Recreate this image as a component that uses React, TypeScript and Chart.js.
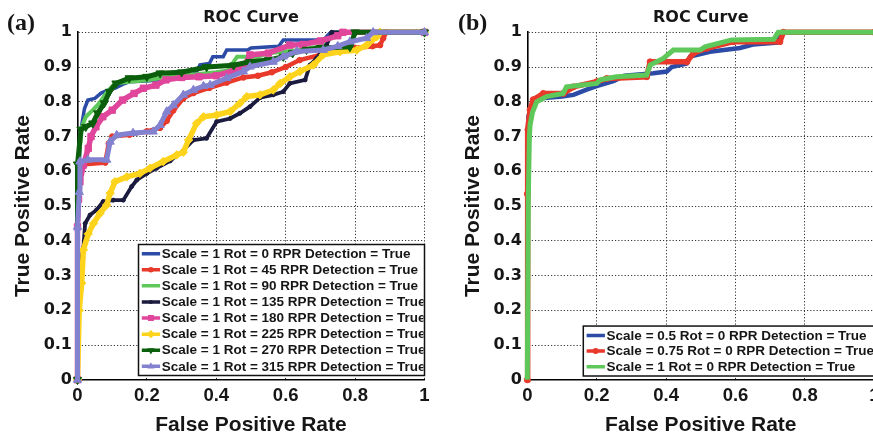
import React, { useEffect, useRef } from 'react';
import { Chart, registerables } from 'chart.js';

Chart.register(...registerables);

// ---------- text ----------
const TITLE = 'ROC Curve';
const X_TITLE = 'False Positive Rate';
const Y_TITLE = 'True Positive Rate';
const PANEL_LABELS = ['(a)', '(b)'];

// ---------- ticks ----------
const X_TICKS = [0, 0.2, 0.4, 0.6, 0.8, 1];
const X_TICK_LABELS = ['0', '0.2', '0.4', '0.6', '0.8', '1'];
const Y_TICKS = [0, 0.1, 0.2, 0.3, 0.4, 0.5, 0.6, 0.7, 0.8, 0.9, 1];
const Y_TICK_LABELS = ['0', '0.1', '0.2', '0.3', '0.4', '0.5', '0.6', '0.7', '0.8', '0.9', '1'];

// ---------- legend labels ----------
const LABELS_A = [
  'Scale = 1 Rot = 0 RPR Detection = True',
  'Scale = 1 Rot = 45 RPR Detection = True',
  'Scale = 1 Rot = 90 RPR Detection = True',
  'Scale = 1 Rot = 135 RPR Detection = True',
  'Scale = 1 Rot = 180 RPR Detection = True',
  'Scale = 1 Rot = 225 RPR Detection = True',
  'Scale = 1 Rot = 270 RPR Detection = True',
  'Scale = 1 Rot = 315 RPR Detection = True',
];
const LABELS_B = [
  'Scale = 0.5 Rot = 0 RPR Detection = True',
  'Scale = 0.75 Rot = 0 RPR Detection = True',
  'Scale = 1 Rot = 0 RPR Detection = True',
];

// ---------- data: [FPR, TPR] ----------
const A_ROT0: [number, number][] = [
  [0, 0], [0, 0.5], [0.005, 0.62], [0.01, 0.72], [0.02, 0.78], [0.03, 0.805], [0.05, 0.81],
  [0.068, 0.825], [0.09, 0.834], [0.11, 0.84], [0.13, 0.85], [0.15, 0.858], [0.2, 0.86],
  [0.25, 0.865], [0.295, 0.872], [0.33, 0.875], [0.345, 0.89], [0.353, 0.906], [0.38, 0.91],
  [0.39, 0.93], [0.42, 0.93], [0.43, 0.949], [0.49, 0.949], [0.5, 0.955], [0.58, 0.96],
  [0.593, 0.978], [0.71, 0.978], [0.72, 0.99], [0.73, 1], [1, 1],
];
const A_ROT45: [number, number][] = [
  [0, 0], [0, 0.44], [0.005, 0.6], [0.02, 0.62], [0.08, 0.625], [0.09, 0.68], [0.1, 0.7],
  [0.15, 0.705], [0.2, 0.715], [0.238, 0.725], [0.257, 0.745], [0.276, 0.775], [0.305, 0.81],
  [0.334, 0.825], [0.38, 0.84], [0.43, 0.855], [0.478, 0.87], [0.52, 0.875], [0.56, 0.885],
  [0.6, 0.9], [0.64, 0.92], [0.7, 0.935], [0.75, 0.945], [0.8, 0.955], [0.85, 0.96],
  [0.872, 0.963], [0.881, 0.983], [0.89, 1], [1, 1],
];
const A_ROT90: [number, number][] = [
  [0, 0], [0, 0.55], [0.005, 0.65], [0.013, 0.728], [0.024, 0.757], [0.044, 0.776],
  [0.063, 0.796], [0.082, 0.824], [0.1, 0.845], [0.111, 0.853], [0.149, 0.858], [0.2, 0.862],
  [0.25, 0.87], [0.3, 0.875], [0.35, 0.88], [0.4, 0.885], [0.434, 0.89], [0.45, 0.915],
  [0.46, 0.93], [0.52, 0.93], [0.55, 0.94], [0.6, 0.945], [0.65, 0.95], [0.7, 0.96],
  [0.74, 0.99], [0.75, 1], [1, 1],
];
const A_ROT135: [number, number][] = [
  [0, 0], [0.003, 0.25], [0.008, 0.33], [0.017, 0.38], [0.022, 0.45], [0.036, 0.474],
  [0.055, 0.489], [0.074, 0.513], [0.103, 0.517], [0.132, 0.517], [0.156, 0.556], [0.171, 0.575],
  [0.2, 0.594], [0.228, 0.609], [0.267, 0.63], [0.305, 0.66], [0.334, 0.69], [0.372, 0.695],
  [0.401, 0.743], [0.44, 0.752], [0.468, 0.767], [0.497, 0.786], [0.526, 0.812], [0.564, 0.82],
  [0.593, 0.829], [0.612, 0.853], [0.656, 0.863], [0.67, 0.906], [0.689, 0.925], [0.718, 0.963],
  [0.733, 1], [1, 1],
];
const A_ROT180: [number, number][] = [
  [0, 0], [0, 0.44], [0.003, 0.52], [0.007, 0.57], [0.017, 0.618], [0.031, 0.666], [0.039, 0.7],
  [0.053, 0.728], [0.073, 0.757], [0.1, 0.776], [0.13, 0.805], [0.163, 0.824], [0.19, 0.839],
  [0.226, 0.848], [0.255, 0.863], [0.3, 0.87], [0.35, 0.872], [0.4, 0.875], [0.45, 0.89],
  [0.48, 0.9], [0.497, 0.935], [0.55, 0.94], [0.612, 0.963], [0.65, 0.965], [0.7, 0.975],
  [0.75, 0.99], [0.765, 1], [1, 1],
];
const A_ROT225: [number, number][] = [
  [0, 0], [0.005, 0.2], [0.012, 0.278], [0.017, 0.374], [0.031, 0.42], [0.046, 0.45],
  [0.065, 0.479], [0.084, 0.503], [0.094, 0.537], [0.108, 0.57], [0.142, 0.584], [0.18, 0.594],
  [0.209, 0.609], [0.247, 0.628], [0.286, 0.647], [0.305, 0.655], [0.32, 0.69], [0.343, 0.738],
  [0.363, 0.757], [0.401, 0.762], [0.44, 0.772], [0.468, 0.796], [0.488, 0.815], [0.526, 0.82],
  [0.564, 0.834], [0.584, 0.853], [0.612, 0.872], [0.641, 0.887], [0.68, 0.906], [0.708, 0.935],
  [0.756, 0.944], [0.805, 0.949], [0.833, 0.963], [0.862, 0.987], [0.872, 1], [1, 1],
];
const A_ROT270: [number, number][] = [
  [0, 0], [0, 0.62], [0.01, 0.72], [0.024, 0.728], [0.044, 0.738], [0.058, 0.767], [0.077, 0.796],
  [0.092, 0.829], [0.111, 0.853], [0.149, 0.868], [0.2, 0.872], [0.238, 0.882], [0.3, 0.885],
  [0.372, 0.9], [0.45, 0.905], [0.497, 0.915], [0.55, 0.92], [0.593, 0.93], [0.62, 0.94],
  [0.66, 0.95], [0.7, 0.955], [0.785, 0.958], [0.8, 1], [1, 1],
];
const A_ROT315: [number, number][] = [
  [0, 0], [0, 0.44], [0.005, 0.54], [0.007, 0.628], [0.03, 0.633], [0.084, 0.633], [0.094, 0.685],
  [0.113, 0.704], [0.16, 0.71], [0.218, 0.714], [0.238, 0.733], [0.257, 0.772], [0.276, 0.79],
  [0.305, 0.82], [0.334, 0.834], [0.363, 0.845], [0.382, 0.848], [0.43, 0.868], [0.478, 0.887],
  [0.497, 0.901], [0.564, 0.915], [0.593, 0.93], [0.632, 0.945], [0.708, 0.949], [0.75, 0.96],
  [0.785, 0.973], [0.833, 0.983], [0.852, 1], [1, 1],
];

const B_SCALE05: [number, number][] = [
  [0, 0], [0, 0.6], [0.003, 0.757], [0.01, 0.785], [0.02, 0.8], [0.04, 0.81], [0.1, 0.815],
  [0.133, 0.82], [0.171, 0.835], [0.2, 0.845], [0.25, 0.86], [0.28, 0.875], [0.363, 0.882],
  [0.402, 0.887], [0.416, 0.9], [0.459, 0.91], [0.469, 0.93], [0.526, 0.944], [0.613, 0.955],
  [0.65, 0.965], [0.72, 0.97], [0.733, 1], [1, 1],
];
const B_SCALE075: [number, number][] = [
  [0, 0], [0, 0.535], [0.002, 0.72], [0.008, 0.777], [0.017, 0.806], [0.046, 0.824],
  [0.104, 0.824], [0.133, 0.843], [0.2, 0.858], [0.229, 0.867], [0.344, 0.872], [0.354, 0.915],
  [0.46, 0.915], [0.479, 0.94], [0.517, 0.954], [0.594, 0.973], [0.728, 0.973], [0.738, 1], [1, 1],
];
const B_SCALE1: [number, number][] = [
  [0, 0], [0.003, 0.53], [0.006, 0.7], [0.008, 0.733], [0.015, 0.77], [0.027, 0.8], [0.055, 0.815],
  [0.103, 0.824], [0.113, 0.843], [0.2, 0.853], [0.21, 0.863], [0.257, 0.872], [0.344, 0.877],
  [0.354, 0.906], [0.392, 0.925], [0.421, 0.949], [0.498, 0.949], [0.512, 0.958], [0.589, 0.978],
  [0.71, 0.98], [0.723, 1], [1, 1],
];

const SERIES_A = [A_ROT0, A_ROT45, A_ROT90, A_ROT135, A_ROT180, A_ROT225, A_ROT270, A_ROT315];
const SERIES_B = [B_SCALE05, B_SCALE075, B_SCALE1];

// ---------- styles ----------
type Marker = 'none' | 'circle' | 'dot' | 'rect' | 'rectRot' | 'triUp' | 'triDown' | 'cross';
type Style = { color: string; width: number; marker: Marker; size: number };

const STYLES_A: Style[] = [
  { color: '#2b4ba6', width: 3.5, marker: 'none', size: 0 },
  { color: '#e8392b', width: 4.5, marker: 'circle', size: 2.8 },
  { color: '#5ec85a', width: 4, marker: 'none', size: 0 },
  { color: '#1b1b3f', width: 3.8, marker: 'dot', size: 2 },
  { color: '#e0469b', width: 5.5, marker: 'rect', size: 4.5 },
  { color: '#fdd31c', width: 5.5, marker: 'rectRot', size: 4.2 },
  { color: '#0b5e0b', width: 5, marker: 'triDown', size: 4.8 },
  { color: '#8382d0', width: 5, marker: 'triUp', size: 4.8 },
];
const STYLES_B: Style[] = [
  { color: '#2b4ba6', width: 4.5, marker: 'none', size: 0 },
  { color: '#e8392b', width: 5.5, marker: 'circle', size: 3 },
  { color: '#5ec85a', width: 5, marker: 'none', size: 0 },
];

const TEXT_COLOR = '#161616';

function drawMarker(ctx: CanvasRenderingContext2D, kind: Marker, x: number, y: number, r: number, color: string) {
  if (kind === 'none') return;
  ctx.save();
  ctx.fillStyle = color;
  ctx.strokeStyle = color;
  ctx.lineWidth = 1;
  ctx.setLineDash([]);
  ctx.beginPath();
  const c30 = Math.cos(Math.PI / 6);
  switch (kind) {
    case 'circle':
    case 'dot':
      ctx.arc(x, y, r, 0, Math.PI * 2);
      ctx.fill();
      break;
    case 'rect': {
      const s = r * Math.SQRT1_2;
      ctx.rect(x - s, y - s, 2 * s, 2 * s);
      ctx.fill();
      break;
    }
    case 'rectRot':
      ctx.moveTo(x, y - r); ctx.lineTo(x + r, y); ctx.lineTo(x, y + r); ctx.lineTo(x - r, y);
      ctx.closePath(); ctx.fill();
      break;
    case 'triUp':
      ctx.moveTo(x, y - r); ctx.lineTo(x + r * c30, y + r / 2); ctx.lineTo(x - r * c30, y + r / 2);
      ctx.closePath(); ctx.fill();
      break;
    case 'triDown':
      ctx.moveTo(x, y + r); ctx.lineTo(x + r * c30, y - r / 2); ctx.lineTo(x - r * c30, y - r / 2);
      ctx.closePath(); ctx.fill();
      break;
    case 'cross':
      ctx.moveTo(x - r, y); ctx.lineTo(x + r, y); ctx.moveTo(x, y - r); ctx.lineTo(x, y + r);
      ctx.stroke();
      break;
  }
  ctx.restore();
}

const boxLegend = {
  id: 'boxLegend',
  afterDatasetsDraw(chart: any, _args: any, opts: any) {
    const { ctx, chartArea } = chart;
    const labels: string[] = opts.labels;
    const styles: Style[] = opts.styles;
    const left = chartArea.left + opts.offsetLeft;
    const height = opts.rowHeight * labels.length + opts.padY * 2;
    const bottom = chartArea.bottom - opts.offsetBottom;
    const top = bottom - height;
    ctx.save();
    ctx.fillStyle = '#ffffff';
    ctx.fillRect(left, top, opts.width, height);
    ctx.lineWidth = 1.5;
    ctx.strokeStyle = '#111';
    ctx.setLineDash([]);
    ctx.strokeRect(left, top, opts.width, height);
    ctx.beginPath();
    ctx.rect(left, top, opts.width - 1, height);
    ctx.clip();
    ctx.font = 'bold 13.5px "Liberation Sans", Arial, sans-serif';
    ctx.textBaseline = 'middle';
    ctx.textAlign = 'left';
    labels.forEach((label, i) => {
      const st = styles[i];
      const cy = top + opts.padY + opts.rowHeight * (i + 0.5);
      ctx.strokeStyle = st.color;
      ctx.lineWidth = 3.5;
      ctx.beginPath();
      ctx.moveTo(left + 3.3, cy);
      ctx.lineTo(left + 21.6, cy);
      ctx.stroke();
      drawMarker(ctx, st.marker, left + 12.4, cy, Math.min(st.size, 4.2), st.color);
      ctx.fillStyle = TEXT_COLOR;
      ctx.fillText(label, left + 23.3, cy + 0.5);
    });
    ctx.restore();
  },
};

type RocProps = {
  series: [number, number][][];
  labels: string[];
  styles: Style[];
  yAxisWidth: number;
  rightPad: number;
  legend: { offsetLeft: number; offsetBottom: number; width: number; rowHeight: number; padY: number };
};

const CANVAS_W = 436;
const CANVAS_H = 434;

function RocChart({ series, labels, styles, yAxisWidth, rightPad, legend }: RocProps) {
  const ref = useRef<HTMLCanvasElement>(null);
  useEffect(() => {
    if (!ref.current) return;
    const n = series.length;
    const chart = new Chart(ref.current, {
      type: 'line',
      data: {
        datasets: series.map((pts, i) => {
          const st = styles[i];
          const ps =
            st.marker === 'none' ? 'circle'
            : st.marker === 'dot' ? 'circle'
            : st.marker === 'triUp' || st.marker === 'triDown' ? 'triangle'
            : st.marker;
          return {
            label: labels[i],
            data: pts.map(([x, y]) => ({ x, y })),
            borderColor: st.color,
            backgroundColor: st.color,
            borderWidth: st.width,
            pointStyle: ps as any,
            pointRadius: st.marker === 'none' ? 0 : st.size,
            pointRotation: st.marker === 'triDown' ? 180 : 0,
            pointBorderWidth: 1,
            pointBorderColor: st.color,
            pointBackgroundColor: st.color,
            pointHoverRadius: 0,
            tension: 0,
            fill: false,
            clip: 8,
            order: n - i,
          };
        }),
      },
      options: {
        responsive: false,
        animation: false,
        devicePixelRatio: 1,
        events: [],
        layout: { padding: { left: 0, right: rightPad, top: 0, bottom: 0 } },
        plugins: {
          legend: { display: false },
          tooltip: { enabled: false },
          title: {
            display: true,
            text: TITLE,
            fullSize: false,
            color: TEXT_COLOR,
            font: { family: '"DejaVu Sans", sans-serif', weight: 'bold', size: 16, lineHeight: 1.2 },
            padding: { top: 8, bottom: 5.1 },
          },
          boxLegend: { labels, styles, ...legend },
        } as any,
        scales: {
          x: {
            type: 'linear',
            min: 0,
            max: 1,
            afterBuildTicks: (s: any) => { s.ticks = X_TICKS.map((v) => ({ value: v })); },
            afterFit: (s: any) => { s.height = CANVAS_H - 379.8; },
            ticks: {
              autoSkip: false,
              maxRotation: 0,
              padding: 5,
              color: TEXT_COLOR,
              font: { family: '"Liberation Sans", Arial, sans-serif', weight: 'bold', size: 18.5, lineHeight: 1.2 },
              callback: (_v: any, i: number) => X_TICK_LABELS[i],
            },
            grid: { color: '#333', lineWidth: 1, drawTicks: false },
            border: { display: true, color: '#000', width: 1.6, dash: [1.2, 2] },
            title: {
              display: true,
              text: X_TITLE,
              color: TEXT_COLOR,
              font: { family: '"Liberation Sans", Arial, sans-serif', weight: 'bold', size: 21, lineHeight: 0.8 },
              padding: { top: 0, bottom: 0.4 },
            },
          },
          y: {
            type: 'linear',
            min: 0,
            max: 1,
            afterBuildTicks: (s: any) => { s.ticks = Y_TICKS.map((v) => ({ value: v })); },
            afterFit: (s: any) => { s.width = yAxisWidth; },
            ticks: {
              autoSkip: false,
              padding: 5.5,
              color: TEXT_COLOR,
              font: { family: '"DejaVu Sans", sans-serif', weight: 'bold', size: 16, lineHeight: 1.2 },
              callback: (_v: any, i: number) => Y_TICK_LABELS[i],
            },
            grid: { color: '#333', lineWidth: 1, drawTicks: false },
            border: { display: true, color: '#000', width: 1.6, dash: [1.2, 2] },
            title: {
              display: true,
              text: Y_TITLE,
              color: TEXT_COLOR,
              font: { family: '"Liberation Sans", Arial, sans-serif', weight: 'bold', size: 21, lineHeight: 1 },
              padding: { top: 13.1, bottom: 0 },
            },
          },
        },
      } as any,
      plugins: [boxLegend],
    });
    return () => chart.destroy();
  }, []);
  return (
    <canvas
      ref={ref}
      width={CANVAS_W}
      height={CANVAS_H}
      style={{ display: 'block', width: CANVAS_W, height: CANVAS_H }}
    />
  );
}

const panelLabelStyle: React.CSSProperties = {
  position: 'absolute',
  top: 10,
  fontFamily: '"Liberation Serif", "Times New Roman", serif',
  fontWeight: 'bold',
  fontSize: 24,
  lineHeight: '24px',
  color: '#161616',
};

export default function App() {
  return (
    <div
      style={{
        position: 'absolute',
        left: 0,
        top: 0,
        width: 873,
        height: 434,
        overflow: 'hidden',
        background: '#fff',
      }}
    >
      <div style={{ position: 'absolute', left: 0, top: 0 }}>
        <RocChart
          series={SERIES_A}
          labels={LABELS_A}
          styles={STYLES_A}
          yAxisWidth={77.5}
          rightPad={CANVAS_W - 77.5 - 347}
          legend={{ offsetLeft: 61, offsetBottom: 4.3, width: 286, rowHeight: 16.1, padY: 1.1 }}
        />
      </div>
      <div style={{ position: 'absolute', left: 450, top: 0 }}>
        <RocChart
          series={SERIES_B}
          labels={LABELS_B}
          styles={STYLES_B}
          yAxisWidth={77.3}
          rightPad={CANVAS_W - 77.3 - 347}
          legend={{ offsetLeft: 56, offsetBottom: 3.8, width: 300, rowHeight: 15.65, padY: 1.5 }}
        />
      </div>
      <div style={{ ...panelLabelStyle, left: 7 }}>{PANEL_LABELS[0]}</div>
      <div style={{ ...panelLabelStyle, left: 458 }}>{PANEL_LABELS[1]}</div>
    </div>
  );
}
